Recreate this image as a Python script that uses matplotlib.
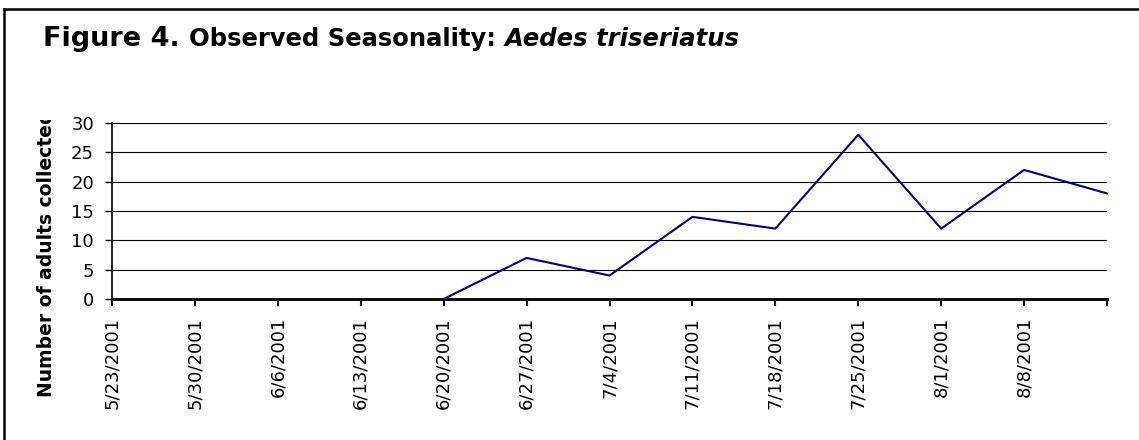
import matplotlib
matplotlib.use("Agg")
import matplotlib.pyplot as plt
from matplotlib.lines import Line2D
from matplotlib.patches import Rectangle

plt.rcParams['font.family'] = ['DejaVu Sans']

# weekly collection dates (category axis) and counts
DATES = ['5/23/2001', '5/30/2001', '6/6/2001', '6/13/2001', '6/20/2001', '6/27/2001',
         '7/4/2001', '7/11/2001', '7/18/2001', '7/25/2001', '8/1/2001', '8/8/2001', '']
WEEK_IDX = [4, 5, 6, 7, 8, 9, 10, 11, 12]
COUNTS = [0, 7, 4, 14, 12, 28, 12, 22, 18]
Y_TICKS = [0, 5, 10, 15, 20, 25, 30]

W, H = 1139, 440
fig = plt.figure(figsize=(W / 100, H / 100), dpi=100)
ax = fig.add_axes([112 / W, 1 - 299 / H, (1107 - 112) / W, (299 - 123) / H])

ax.plot(WEEK_IDX, COUNTS, color='#000080', lw=1.5, clip_on=False, zorder=3)

ax.set_xlim(0, len(DATES) - 1)
ax.set_ylim(0, 30)
ax.set_yticks(Y_TICKS)
ax.set_xticks(range(len(DATES)))
ax.set_xticklabels(DATES, rotation=90)

for y in Y_TICKS[1:]:
    ax.axhline(y, color='black', lw=0.8, zorder=1)

ax.spines['top'].set_visible(False)
ax.spines['right'].set_visible(False)
ax.spines['left'].set_linewidth(1.2)
ax.spines['bottom'].set_linewidth(2.0)
ax.tick_params(axis='y', direction='out', length=5, width=1.0, pad=8, labelsize=13)
ax.tick_params(axis='x', direction='out', length=5, width=1.5, pad=8, labelsize=13)

# y axis title, clipped at the top like the original
ylab = fig.text(47 / W, 1 - 397 / H, 'Number of adults collected', rotation=90,
                ha='center', va='bottom', fontsize=13.5, fontweight='bold')
ylab.set_clip_path(Rectangle((0, 0), 1, 1 - 120 / H, transform=fig.transFigure))

# title pieces placed one after another
fig.canvas.draw()
r = fig.canvas.get_renderer()
x = 43
base = 1 - 46 / H
for txt, size, style in [('Figure 4. ', 19.5, 'normal'),
                         ('Observed Seasonality: ', 17.5, 'normal'),
                         ('Aedes triseriatus', 17.5, 'italic')]:
    t = fig.text(x / W, base, txt, fontsize=size, fontweight='bold', fontstyle=style,
                 va='baseline', ha='left')
    bb = t.get_window_extent(r)
    x = bb.x1

# frame around the chart (only top and left visible)
fig.add_artist(Line2D([4 / W, 1], [1 - 9 / H, 1 - 9 / H], color='black', lw=1.8,
                      transform=fig.transFigure))
fig.add_artist(Line2D([4 / W, 4 / W], [0, 1 - 9 / H], color='black', lw=1.8,
                      transform=fig.transFigure))

fig.savefig('out.png', dpi=100)
